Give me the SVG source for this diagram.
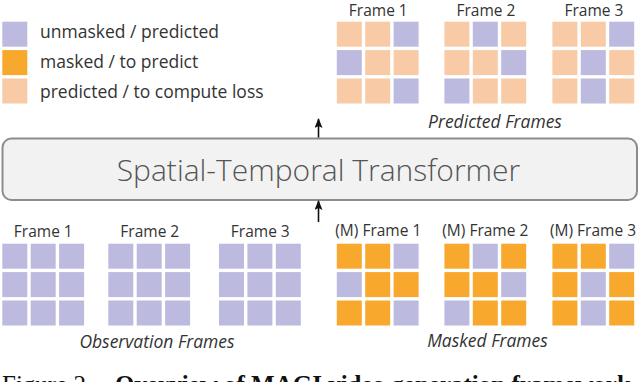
<svg xmlns="http://www.w3.org/2000/svg" width="640" height="382" viewBox="0 0 640 382">
<style>
.u{fill:#bcbade}
.m{fill:#f9a82e}
.p{fill:#f8cba6}
.lbl{font-family:"Open Sans","Liberation Sans",sans-serif;font-size:15.5px;fill:#333;text-anchor:middle}
.leg{font-family:"Open Sans","Liberation Sans",sans-serif;font-size:17.5px;fill:#333}
.grp{font-family:"Open Sans","Liberation Sans",sans-serif;font-size:17.5px;font-style:italic;fill:#333;text-anchor:middle}
.cap{font-family:"Liberation Serif","Times New Roman",serif;font-size:25px;fill:#111}
.arr{stroke:#111;stroke-width:1.6;fill:none}
</style>
<defs>
<rect id="c" width="25" height="25"/>
<marker id="ah" markerWidth="10" markerHeight="8" refX="9" refY="4" orient="auto" markerUnits="userSpaceOnUse" viewBox="0 0 10 8">
<path d="M0,0 L10,4 L0,8 L2,4 Z" fill="#111"/>
</marker>
</defs>

<g id="legend">
<use href="#c" x="2.3" y="21.7" class="u"/>
<use href="#c" x="2.3" y="50.1" class="m"/>
<use href="#c" x="2.3" y="78.5" class="p"/>
<text class="leg" x="40" y="37.5">unmasked / predicted</text>
<text class="leg" x="40" y="67.5">masked / to predict</text>
<text class="leg" x="40" y="97.5">predicted / to compute loss</text>
</g>

<g id="predicted-frame-1">
<text class="lbl" x="378.3" y="16">Frame 1</text>
<use href="#c" x="336.8" y="21.7" class="p"/><use href="#c" x="365.2" y="21.7" class="p"/><use href="#c" x="393.6" y="21.7" class="u"/>
<use href="#c" x="336.8" y="50.1" class="u"/><use href="#c" x="365.2" y="50.1" class="p"/><use href="#c" x="393.6" y="50.1" class="p"/>
<use href="#c" x="336.8" y="78.5" class="p"/><use href="#c" x="365.2" y="78.5" class="p"/><use href="#c" x="393.6" y="78.5" class="u"/>
</g>
<g id="predicted-frame-2">
<text class="lbl" x="485.9" y="16">Frame 2</text>
<use href="#c" x="444.4" y="21.7" class="p"/><use href="#c" x="472.8" y="21.7" class="u"/><use href="#c" x="501.2" y="21.7" class="p"/>
<use href="#c" x="444.4" y="50.1" class="p"/><use href="#c" x="472.8" y="50.1" class="p"/><use href="#c" x="501.2" y="50.1" class="u"/>
<use href="#c" x="444.4" y="78.5" class="u"/><use href="#c" x="472.8" y="78.5" class="p"/><use href="#c" x="501.2" y="78.5" class="p"/>
</g>
<g id="predicted-frame-3">
<text class="lbl" x="593.9" y="16">Frame 3</text>
<use href="#c" x="552.4" y="21.7" class="p"/><use href="#c" x="580.8" y="21.7" class="p"/><use href="#c" x="609.2" y="21.7" class="u"/>
<use href="#c" x="552.4" y="50.1" class="p"/><use href="#c" x="580.8" y="50.1" class="u"/><use href="#c" x="609.2" y="50.1" class="p"/>
<use href="#c" x="552.4" y="78.5" class="p"/><use href="#c" x="580.8" y="78.5" class="u"/><use href="#c" x="609.2" y="78.5" class="p"/>
</g>
<text class="grp" x="495" y="128">Predicted Frames</text>

<g id="transformer">
<rect x="2.5" y="138.5" width="634.5" height="61.5" rx="9" fill="#f2f2f2" stroke="#8c8c8c" stroke-width="2"/>
<text x="318.5" y="181" font-family="'Open Sans','Liberation Sans',sans-serif" font-size="30" font-weight="300" fill="#555" text-anchor="middle">Spatial-Temporal Transformer</text>
</g>

<g id="connectors">
<line class="arr" x1="318.5" y1="137.5" x2="318.5" y2="119" marker-end="url(#ah)"/>
<line class="arr" x1="318.5" y1="222" x2="318.5" y2="201" marker-end="url(#ah)"/>
</g>

<g id="observation-frame-1">
<text class="lbl" x="43.3" y="237">Frame 1</text>
<use href="#c" x="2.3" y="243.7" class="u"/><use href="#c" x="30.7" y="243.7" class="u"/><use href="#c" x="59.1" y="243.7" class="u"/>
<use href="#c" x="2.3" y="272.1" class="u"/><use href="#c" x="30.7" y="272.1" class="u"/><use href="#c" x="59.1" y="272.1" class="u"/>
<use href="#c" x="2.3" y="300.5" class="u"/><use href="#c" x="30.7" y="300.5" class="u"/><use href="#c" x="59.1" y="300.5" class="u"/>
</g>
<g id="observation-frame-2">
<text class="lbl" x="149.8" y="237">Frame 2</text>
<use href="#c" x="108.3" y="243.7" class="u"/><use href="#c" x="136.7" y="243.7" class="u"/><use href="#c" x="165.1" y="243.7" class="u"/>
<use href="#c" x="108.3" y="272.1" class="u"/><use href="#c" x="136.7" y="272.1" class="u"/><use href="#c" x="165.1" y="272.1" class="u"/>
<use href="#c" x="108.3" y="300.5" class="u"/><use href="#c" x="136.7" y="300.5" class="u"/><use href="#c" x="165.1" y="300.5" class="u"/>
</g>
<g id="observation-frame-3">
<text class="lbl" x="260.3" y="237">Frame 3</text>
<use href="#c" x="219" y="243.7" class="u"/><use href="#c" x="247.4" y="243.7" class="u"/><use href="#c" x="275.8" y="243.7" class="u"/>
<use href="#c" x="219" y="272.1" class="u"/><use href="#c" x="247.4" y="272.1" class="u"/><use href="#c" x="275.8" y="272.1" class="u"/>
<use href="#c" x="219" y="300.5" class="u"/><use href="#c" x="247.4" y="300.5" class="u"/><use href="#c" x="275.8" y="300.5" class="u"/>
</g>
<text class="grp" x="157" y="348">Observation Frames</text>

<g id="masked-frame-1">
<text class="lbl" x="378.3" y="236">(M) Frame 1</text>
<use href="#c" x="336.8" y="243.7" class="m"/><use href="#c" x="365.2" y="243.7" class="m"/><use href="#c" x="393.6" y="243.7" class="u"/>
<use href="#c" x="336.8" y="272.1" class="u"/><use href="#c" x="365.2" y="272.1" class="m"/><use href="#c" x="393.6" y="272.1" class="m"/>
<use href="#c" x="336.8" y="300.5" class="m"/><use href="#c" x="365.2" y="300.5" class="m"/><use href="#c" x="393.6" y="300.5" class="u"/>
</g>
<g id="masked-frame-2">
<text class="lbl" x="485.3" y="236">(M) Frame 2</text>
<use href="#c" x="444.4" y="243.7" class="m"/><use href="#c" x="472.8" y="243.7" class="u"/><use href="#c" x="501.2" y="243.7" class="m"/>
<use href="#c" x="444.4" y="272.1" class="m"/><use href="#c" x="472.8" y="272.1" class="m"/><use href="#c" x="501.2" y="272.1" class="u"/>
<use href="#c" x="444.4" y="300.5" class="u"/><use href="#c" x="472.8" y="300.5" class="m"/><use href="#c" x="501.2" y="300.5" class="m"/>
</g>
<g id="masked-frame-3">
<text class="lbl" x="593" y="236">(M) Frame 3</text>
<use href="#c" x="552.4" y="243.7" class="m"/><use href="#c" x="580.8" y="243.7" class="m"/><use href="#c" x="609.2" y="243.7" class="u"/>
<use href="#c" x="552.4" y="272.1" class="m"/><use href="#c" x="580.8" y="272.1" class="u"/><use href="#c" x="609.2" y="272.1" class="m"/>
<use href="#c" x="552.4" y="300.5" class="m"/><use href="#c" x="580.8" y="300.5" class="u"/><use href="#c" x="609.2" y="300.5" class="m"/>
</g>
<text class="grp" x="487.5" y="347">Masked Frames</text>

<text class="cap" x="2" y="393">Figure 2.<tspan x="115" font-weight="bold">Overview of MAGI video generation framework</tspan></text>
</svg>
